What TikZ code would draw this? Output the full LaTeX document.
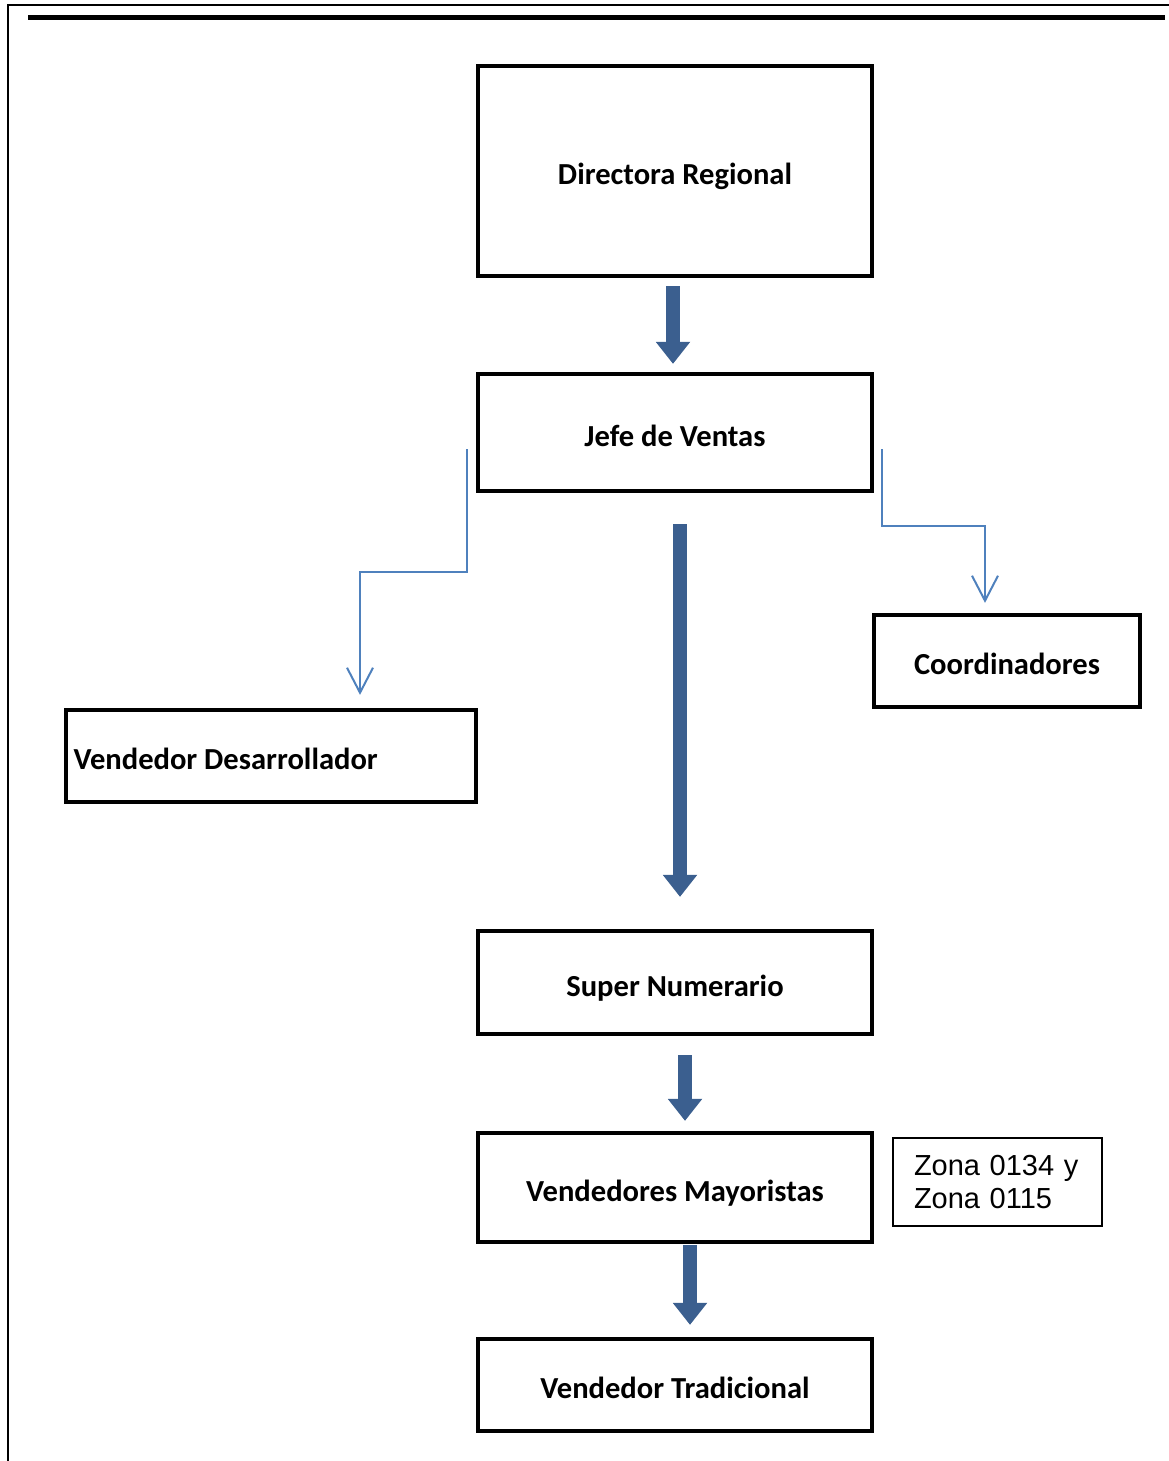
\documentclass[tikz,border=0pt]{standalone}
\usepackage{fontspec}
\setmainfont{Carlito}
\newfontfamily\zonafont{Liberation Sans}
\usepackage{xcolor}
\usetikzlibrary{arrows.meta, calc}
\definecolor{bigblue}{HTML}{3B5F8F}
\definecolor{thinblue}{HTML}{4F81BD}
\tikzset{
    cargo/.style={rectangle, draw=black, line width=0.085cm, minimum width=7.88cm, text height=19pt, text depth=3.5pt, font=\fontsize{17.4}{21}\selectfont\bfseries},
    bigarrow/.style={line width=0.28cm, draw=bigblue, -{Triangle[width=0.66cm, length=0.44cm]}},
    thinarrow/.style={line width=0.04cm, draw=thinblue, -{Straight Barb[width=0.52cm, length=0.5cm]}}
}

\begin{document}
\begin{tikzpicture}[x=0.02cm, y=-0.02cm]
    \useasboundingbox (0,0) rectangle (1169,1461);
    % Page frame
    \draw[line width=0.04cm] (8,1461) -- (8,5) -- (1169,5);
    \draw[line width=0.1cm] (28,17) -- (1165,17);

    % Boxes
    \node[cargo, minimum height=4.2cm] (dir) at (675,171) {Directora Regional};
    \node[cargo, minimum height=2.34cm] (jefe) at (675,432.5) {Jefe de Ventas};
    \node[cargo, minimum width=5.32cm, minimum height=1.84cm] (coord) at (1007,661) {Coordinadores};
    \node[cargo, minimum width=8.2cm, minimum height=1.84cm, text width=7.9cm, align=flush left, inner xsep=0.15cm] (vdes) at (271,756) {Vendedor Desarrollador};
    \node[cargo, minimum height=2.06cm] (super) at (675,982.5) {Super Numerario};
    \node[cargo, minimum height=2.18cm] (vmay) at (675,1187.5) {Vendedores Mayoristas};
    \node[cargo, minimum height=1.84cm] (vtrad) at (675,1385) {Vendedor Tradicional};
    \node[draw, line width=0.035cm, minimum height=1.76cm, text width=3.34cm, inner xsep=0.42cm, align=left, font=\zonafont\fontsize{16.5}{18.8}\selectfont] (zona) at (997.5,1182) {Zona 0134 y\\Zona 0115};

    % Main line of command
    \draw[bigarrow] ($(dir.south)+(-2,8)$) -- ($(jefe.north)+(-2,-8)$);
    \draw[bigarrow] ($(jefe.south)+(5,31)$) -- ($(super.north)+(5,-32)$);
    \draw[bigarrow] ($(super.south)+(10,19)$) -- ($(vmay.north)+(10,-10)$);
    \draw[bigarrow] ($(vmay.south)+(15,1)$) -- ($(vtrad.north)+(15,-12)$);

    % Side branches
    \draw[thinarrow] ($(jefe.west)+(-9,16.5)$) -- ++(0,123) -| ($(vdes.north)+(89,-13)$);
    \draw[thinarrow] ($(jefe.east)+(8,16.5)$) -- ++(0,77) -| ($(coord.north)+(-22,-10)$);
\end{tikzpicture}
\end{document}
